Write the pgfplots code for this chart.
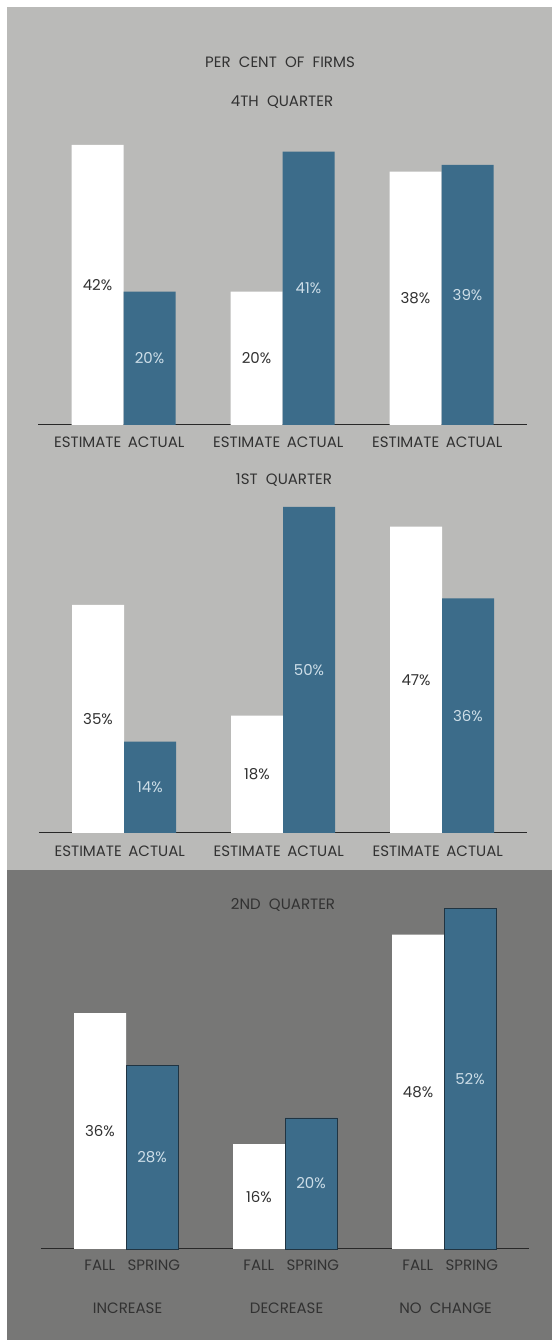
\documentclass[border=0pt]{standalone}
\usepackage{fontspec}
\setmainfont{Poppins}
\usepackage{pgfplots}
\usepackage{pgfplotstable}
\pgfplotsset{compat=1.18}

\definecolor{lightbg}{RGB}{186,186,184}
\definecolor{darkbg}{RGB}{119,119,118}
\definecolor{barblue}{RGB}{60,108,138}
\definecolor{bluedge}{RGB}{32,52,66}
\definecolor{txt}{RGB}{50,50,50}
\definecolor{lbltxt}{RGB}{205,222,232}
\definecolor{linec}{RGB}{40,40,40}

\newcommand{\lab}{\fontsize{15}{18}\selectfont}
\newcommand{\gap}{\hspace{0.55em}}

% per cent of firms, estimate vs actual
\pgfplotstableread{
g est act
0 42 20
1 20 41
2 38 39
}\fourth
\pgfplotstableread{
g est act
0 35 14
1 18 50
2 47 36
}\first
% 2nd quarter: fall vs spring estimate
\pgfplotstableread{
g fall spring
0 36 28
1 16 20
2 48 52
}\second

\pgfplotsset{
  panel/.style={
    x=159pt, xmin=-0.535, xmax=2.535, ymin=0, ymax=55,
    anchor=origin, clip=false,
    axis x line=bottom, axis y line=none,
    x axis line style={-, draw=linec, line width=1pt},
    major tick length=0pt, ytick=\empty,
    xticklabel style={font=\lab, text=txt, anchor=center},
    point meta=explicit symbolic,
    nodes near coords={\pgfplotspointmeta\%},
    visualization depends on={y \as \rawy},
    nodes near coords style={font=\lab, anchor=center,
      shift={(axis direction cs:0,-\rawy/2)}},
  },
  whitebar/.style={ybar, bar width=52pt, bar shift=-26pt, fill=white,
    draw=none, nodes near coords style={text=txt, xshift=-26pt}},
  bluebar/.style={ybar, bar width=52pt, bar shift=26pt, fill=barblue,
    draw=none, nodes near coords style={text=lbltxt, xshift=26pt}},
}

\begin{document}
\begin{tikzpicture}
\useasboundingbox (0pt,0pt) rectangle (552pt,1340pt);
\fill[white] (0pt,0pt) rectangle (552pt,1340pt);
\fill[lightbg] (7pt,470pt) rectangle (552pt,1333pt);
\fill[darkbg] (7pt,0pt) rectangle (552pt,470pt);

\node[font=\lab, text=txt] at (280pt,1278pt) {PER\gap CENT\gap OF\gap FIRMS};
\node[font=\lab, text=txt] at (282pt,1238pt) {4TH\gap QUARTER};
\node[font=\lab, text=txt] at (284pt,860pt) {1ST\gap QUARTER};
\node[font=\lab, text=txt] at (283pt,435pt) {2ND\gap QUARTER};

\begin{axis}[panel, at={(123.5pt,915pt)}, y=6.67pt,
  xtick={-0.225,0.205,0.775,1.205,1.775,2.205},
  xticklabels={ESTIMATE,ACTUAL,ESTIMATE,ACTUAL,ESTIMATE,ACTUAL},
  xticklabel style={yshift=-17.7pt}]
\addplot[whitebar] table[x=g, y=est, meta=est] {\fourth};
\addplot[bluebar] table[x=g, y=act, meta=act] {\fourth};
\end{axis}

\begin{axis}[panel, at={(124pt,507pt)}, y=6.52pt,
  xtick={-0.225,0.205,0.775,1.205,1.775,2.205},
  xticklabels={ESTIMATE,ACTUAL,ESTIMATE,ACTUAL,ESTIMATE,ACTUAL},
  xticklabel style={yshift=-18pt}]
\addplot[whitebar] table[x=g, y=est, meta=est] {\first};
\addplot[bluebar] table[x=g, y=act, meta=act] {\first};
\end{axis}

\begin{axis}[panel, at={(126pt,91pt)}, y=6.55pt,
  xtick={-0.165,0.175,0.835,1.175,1.835,2.175},
  xticklabels={FALL,SPRING,FALL,SPRING,FALL,SPRING},
  xticklabel style={yshift=-16pt}]
\addplot[whitebar] table[x=g, y=fall, meta=fall] {\second};
\addplot[bluebar, draw=bluedge, line width=0.8pt] table[x=g, y=spring, meta=spring] {\second};
\node[font=\lab, text=txt] at (axis cs:0.01,0) [yshift=-59pt] {INCREASE};
\node[font=\lab, text=txt] at (axis cs:1.01,0) [yshift=-59pt] {DECREASE};
\node[font=\lab, text=txt] at (axis cs:2.01,0) [yshift=-59pt] {NO\gap CHANGE};
\end{axis}
\end{tikzpicture}
\end{document}
